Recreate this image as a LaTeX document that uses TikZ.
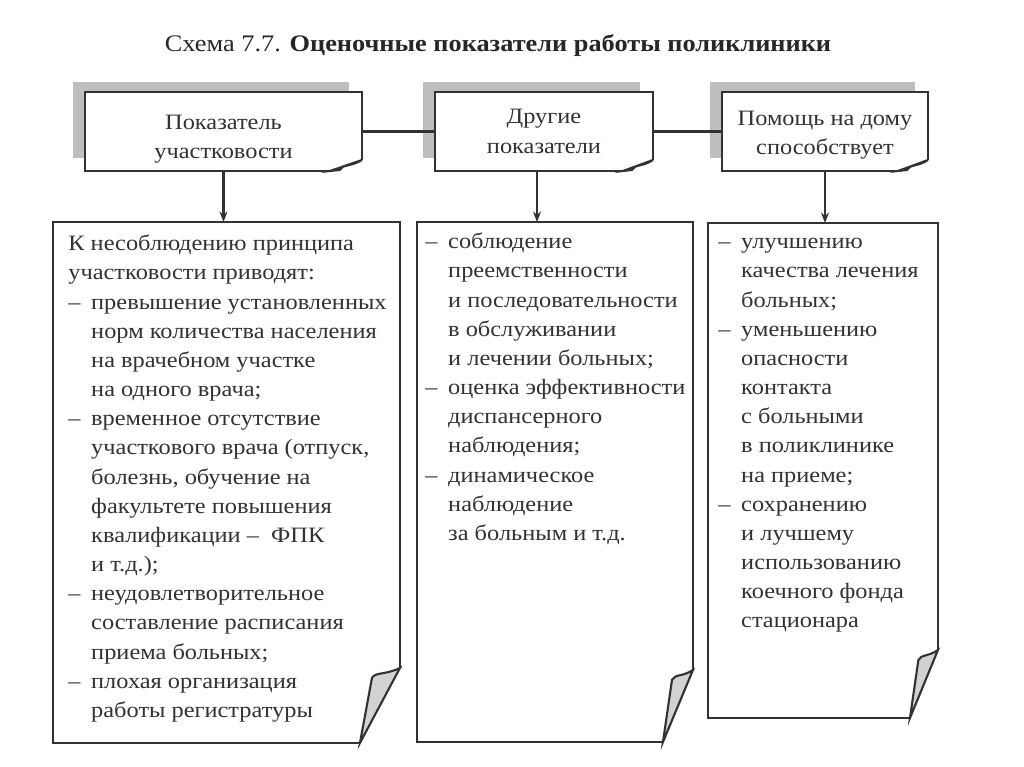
\documentclass[tikz,border=0pt]{standalone}
\usepackage{fontspec}
\setmainfont{Liberation Serif}[FakeStretch=1.11]
\usepackage{tikz}
\usetikzlibrary{arrows.meta,positioning,calc,backgrounds}
\definecolor{inkgray}{RGB}{50,50,50}
\definecolor{shadowgray}{RGB}{190,190,190}
\definecolor{flapgray}{RGB}{210,210,210}
\newcommand{\bodyfont}{\fontsize{12.5pt}{16.6pt}\selectfont}
\newcommand{\idash}{\makebox[13pt][l]{--}}
\newcommand{\icont}{\hspace*{13pt}}
% frame of a sheet with a turned-up corner: flap fill, node, fold width, fold height (px)
\newcommand{\foldframe}[4][flapgray]{%
  \draw[frameline] ($(#2.south east)+(-#3,0)$) -- (#2.south west) -- (#2.north west)
    -- (#2.north east) -- ($(#2.south east)+(0,-#4)$);
  \filldraw[frameline,fill=#1] ($(#2.south east)+(0,-#4)$)
    .. controls +(-0.35*#3,7) and +(3,-6) .. ($(#2.south east)+(-0.7*#3,-#4+10)$)
    -- ($(#2.south east)+(-#3,0)$) -- cycle;
}
\tikzset{
  headbox/.style={rectangle, fill=white, inner sep=0pt, outer sep=0pt,
                  minimum height=1.58cm, align=center, font=\bodyfont, text=inkgray},
  pagebox/.style={rectangle, inner sep=0pt, outer sep=0pt},
  listtext/.style={anchor=north west, inner sep=0pt, font=\bodyfont, text=inkgray},
  frameline/.style={line width=1.2pt, draw=inkgray},
  link/.style={line width=1.2pt, inkgray},
  pointer/.style={link, -{Stealth[length=6pt,width=4.5pt]}},
}

\begin{document}
\begin{tikzpicture}[x=0.02cm,y=-0.02cm]
  \useasboundingbox (0,0) rectangle (1024,767);
  % Title
  \node[font=\fontsize{13.5pt}{16pt}\selectfont, text=black!85] (title) at (498,46)
    {Схема 7.7. \textbf{Оценочные показатели работы поликлиники}};
  % Head boxes
  \node[headbox, minimum width=5.54cm] (pok) at (223.5,131.5) {\rule{0pt}{17pt}Показатель\\участковости};
  \node[headbox, minimum width=4.36cm] (dr) at (544,131.5) {Другие\\показатели};
  \node[headbox, minimum width=4.12cm] (pom) at (825,131.5) {\rule{0pt}{12pt}Помощь на дому\\способствует};
  % Sheets below
  \node[pagebox, minimum width=6.94cm, minimum height=10.42cm] (lev) at (226.5,482.5) {};
  \node[pagebox, minimum width=5.52cm, minimum height=10.40cm] (sr) at (555,482) {};
  \node[pagebox, minimum width=4.60cm, minimum height=9.90cm] (prav) at (823,470.5) {};
  % Shadows
  \begin{scope}[on background layer]
    \fill[white] (0,0) rectangle (1024,767);
    \foreach \b in {pok,dr,pom}
      \fill[shadowgray] ($(\b.north west)+(-12,-10)$) rectangle ($(\b.south east)+(-13,-13)$);
  \end{scope}
  \foldframe[white]{pok}{32}{11}
  \foldframe[white]{dr}{30}{11}
  \foldframe[white]{pom}{30}{11}
  \foldframe{lev}{40}{75}
  \foldframe{sr}{30}{72}
  \foldframe{prav}{28}{68}
  % Connectors
  \draw[link] (pok.east) -- (dr.west);
  \draw[link] (dr.east) -- (pom.west);
  \coordinate (drout) at ($(dr.south)+(-7,0)$);
  \draw[pointer] (pok.south) -- (pok.south |- lev.north);
  \draw[pointer] (drout) -- (drout |- sr.north);
  \draw[pointer] (pom.south) -- (pom.south |- prav.north);
  % Lists
  \node[listtext] (levtext) at ($(lev.north west)+(15,8)$) {\begin{tabular}[t]{@{}l@{}}
    К несоблюдению принципа\\
    участковости приводят:\\
    \idash превышение установленных\\
    \icont норм количества населения\\
    \icont на врачебном участке\\
    \icont на одного врача;\\
    \idash временное отсутствие\\
    \icont участкового врача (отпуск,\\
    \icont болезнь, обучение на\\
    \icont факультете повышения\\
    \icont квалификации -- \ ФПК\\
    \icont и т.д.);\\
    \idash неудовлетворительное\\
    \icont составление расписания\\
    \icont приема больных;\\
    \idash плохая организация\\
    \icont работы регистратуры
  \end{tabular}};
  \node[listtext] (srtext) at ($(sr.north west)+(8,6)$) {\begin{tabular}[t]{@{}l@{}}
    \idash соблюдение\\
    \icont преемственности\\
    \icont и последовательности\\
    \icont в обслуживании\\
    \icont и лечении больных;\\
    \idash оценка эффективности\\
    \icont диспансерного\\
    \icont наблюдения;\\
    \idash динамическое\\
    \icont наблюдение\\
    \icont за больным и т.д.
  \end{tabular}};
  \node[listtext] (pravtext) at ($(prav.north west)+(10,5)$) {\begin{tabular}[t]{@{}l@{}}
    \idash улучшению\\
    \icont качества лечения\\
    \icont больных;\\
    \idash уменьшению\\
    \icont опасности\\
    \icont контакта\\
    \icont с больными\\
    \icont в поликлинике\\
    \icont на приеме;\\
    \idash сохранению\\
    \icont и лучшему\\
    \icont использованию\\
    \icont коечного фонда\\
    \icont стационара
  \end{tabular}};
\end{tikzpicture}
\end{document}
